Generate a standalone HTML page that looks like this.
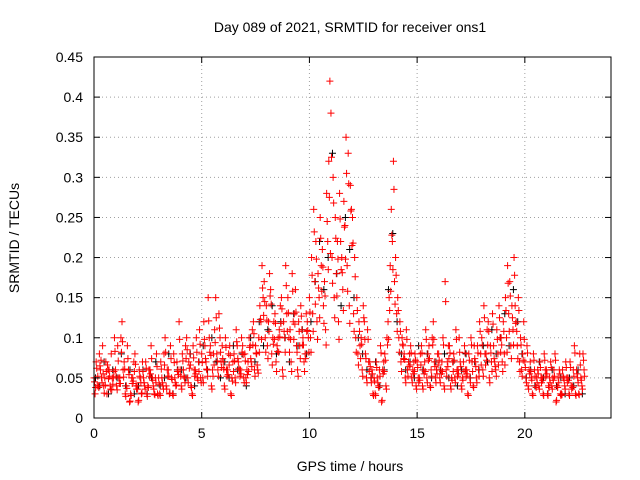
<!DOCTYPE html>
<html><head><meta charset="utf-8">
<style>
body{margin:0;background:#fff;}
svg{display:block;font-family:"Liberation Sans",Arial,sans-serif;}
</style></head>
<body>
<svg id="chart" width="640" height="480" viewBox="0 0 640 480" xmlns="http://www.w3.org/2000/svg">
<rect width="640" height="480" fill="#fff"/>
<text x="350" y="32" font-size="14" text-anchor="middle">Day 089 of 2021, SRMTID for receiver ons1</text>
<text x="350" y="471" font-size="14" text-anchor="middle">GPS time / hours</text>
<text x="19" y="238" font-size="14" text-anchor="middle" transform="rotate(-90 19 238)">SRMTID / TECUs</text>
<g id="grid"></g>
<g id="points"></g>
<g id="axes"></g>
</svg>
<script>
const xTicks=[0,5,10,15,20];
const yTicks=[0,0.05,0.1,0.15,0.2,0.25,0.3,0.35,0.4,0.45];
const yTickLabels=["0","0.05","0.1","0.15","0.2","0.25","0.3","0.35","0.4","0.45"];
const redStepHour=0.1;
const blackStepHour=0.2;
const redA=[.05,.07,.04,.06,.09,.05,.03,.06,.08,.05,
.06,.09,.05,.12,.07,.04,.06,.03,.05,.08,
.04,.06,.03,.05,.07,.04,.06,.05,.03,.08,
.05,.07,.04,.1,.06,.03,.05,.08,.04,.06,
.06,.08,.05,.1,.07,.04,.09,.06,.05,.11,
.08,.12,.07,.15,.09,.06,.11,.08,.13,.07,
.07,.1,.06,.09,.05,.08,.11,.07,.06,.09,
.08,.06,.1,.07,.12,.09,.06,.14,.19,.17,
.14,.12,.16,.1,.13,.09,.11,.15,.12,.19,
.15,.11,.18,.13,.09,.12,.14,.1,.08,.12,
.15,.2,.26,.22,.18,.25,.21,.17,.28,.32,
.38,.3,.25,.22,.28,.2,.27,.35,.33,.29,
.25,.2,.15,.12,.1,.14,.08,.11,.07,.06,
.05,.07,.04,.09,.06,.08,.1,.15,.26,.32,
.2,.15,.12,.1,.08,.11,.07,.09,.06,.08,
.07,.05,.09,.06,.11,.08,.04,.1,.07,.06,
.08,.06,.1,.17,.07,.09,.05,.08,.11,.06,
.07,.05,.09,.06,.08,.1,.04,.07,.09,.12,
.1,.14,.08,.12,.09,.13,.07,.11,.14,.1,
.12,.15,.19,.17,.14,.2,.12,.15,.1,.08,
.07,.09,.06,.05,.08,.04,.06,.07,.05,.08,
.06,.04,.07,.05,.08,.04,.06,.03,.05,.07,
.05,.07,.04,.09,.06,.03,.05,.08];
const redB=[.03,.04,.08,.05,.04,.07,.06,.04,.05,.1,
.04,.05,.1,.06,.03,.09,.02,.05,.07,.04,
.02,.05,.07,.04,.03,.06,.09,.04,.05,.03,
.03,.05,.08,.04,.06,.09,.03,.05,.07,.12,
.04,.06,.09,.05,.08,.03,.06,.1,.07,.05,
.05,.09,.06,.1,.04,.08,.15,.06,.1,.09,
.04,.06,.08,.03,.07,.05,.09,.06,.1,.05,
.05,.07,.09,.11,.06,.08,.1,.12,.15,.1,
.09,.18,.08,.12,.07,.1,.14,.06,.1,.13,
.1,.07,.12,.16,.06,.09,.11,.07,.13,.1,
.1,.13,.17,.12,.15,.19,.14,.11,.22,.42,
.2,.15,.18,.12,.22,.16,.24,.19,.14,.26,
.13,.1,.08,.09,.06,.12,.05,.07,.05,.03,
.03,.05,.06,.02,.07,.04,.12,.19,.22,.17,
.13,.1,.07,.09,.05,.06,.08,.05,.07,.04,
.05,.08,.04,.07,.05,.09,.06,.12,.05,.08,
.05,.07,.04,.06,.09,.04,.07,.05,.06,.1,
.04,.07,.06,.03,.05,.07,.09,.05,.06,.08,
.06,.08,.11,.05,.07,.09,.06,.08,.1,.07,
.08,.1,.13,.09,.11,.14,.09,.07,.06,.12,
.05,.04,.07,.03,.06,.05,.04,.05,.03,.06,
.03,.05,.04,.06,.02,.05,.03,.06,.04,.05,
.03,.04,.06,.03,.05,.08,.04,.06];
const redC=[.045,.062,.038,.072,.055,.041,.066,.052,.035,.058,
.052,.071,.043,.095,.061,.037,.054,.028,.046,.067,
.036,.052,.031,.044,.062,.038,.055,.047,.029,.064,
.042,.061,.036,.082,.052,.031,.048,.069,.041,.054,
.052,.071,.044,.085,.062,.038,.075,.055,.047,.092,
.069,.098,.061,.121,.078,.052,.094,.071,.112,.063,
.061,.088,.054,.078,.046,.071,.095,.062,.055,.079,
.071,.054,.088,.064,.105,.081,.056,.123,.162,.145,
.122,.108,.142,.092,.118,.083,.101,.136,.108,.165,
.131,.098,.158,.117,.082,.108,.127,.091,.074,.109,
.132,.178,.232,.198,.162,.224,.188,.152,.245,.275,
.325,.268,.224,.198,.248,.181,.238,.305,.292,.258,
.218,.176,.134,.108,.092,.125,.074,.098,.064,.055,
.046,.063,.038,.081,.055,.072,.091,.134,.228,.285,
.178,.134,.108,.092,.073,.098,.064,.081,.055,.072,
.063,.047,.081,.055,.098,.072,.038,.091,.064,.055,
.072,.055,.091,.145,.064,.081,.047,.072,.098,.055,
.064,.047,.081,.055,.072,.091,.038,.064,.081,.108,
.091,.125,.072,.108,.081,.117,.064,.098,.125,.091,
.108,.134,.168,.152,.125,.178,.108,.134,.091,.072,
.063,.081,.055,.047,.072,.038,.055,.063,.047,.072,
.055,.038,.063,.047,.072,.038,.055,.029,.047,.063,
.047,.063,.038,.081,.055,.029,.047,.072];
const redD=[.038,.052,.065,.044,.031,.058,.049,.036,.042,.083,
.035,.043,.082,.051,.027,.074,.021,.043,.058,.036,
.022,.044,.058,.036,.027,.052,.074,.036,.044,.028,
.028,.044,.066,.036,.052,.074,.028,.044,.058,.098,
.036,.052,.074,.044,.066,.028,.052,.082,.058,.044,
.044,.074,.052,.082,.036,.066,.125,.052,.082,.074,
.036,.052,.066,.028,.058,.044,.074,.052,.082,.044,
.044,.058,.074,.091,.052,.066,.082,.098,.128,.082,
.074,.152,.066,.098,.058,.082,.118,.052,.082,.108,
.082,.058,.098,.132,.052,.074,.091,.058,.108,.082,
.082,.108,.142,.098,.125,.158,.118,.091,.185,.205,
.168,.125,.152,.098,.185,.134,.198,.158,.118,.215,
.108,.082,.066,.074,.052,.098,.044,.058,.044,.028,
.028,.044,.052,.022,.058,.036,.098,.158,.185,.142,
.108,.082,.058,.074,.044,.052,.066,.044,.058,.036,
.044,.066,.036,.058,.044,.074,.052,.098,.044,.066,
.044,.058,.036,.052,.074,.036,.058,.044,.052,.082,
.036,.058,.052,.028,.044,.058,.074,.044,.052,.066,
.052,.066,.091,.044,.058,.074,.052,.066,.082,.058,
.066,.082,.108,.074,.091,.118,.074,.058,.052,.098,
.044,.036,.058,.028,.052,.044,.036,.044,.028,.052,
.028,.044,.036,.052,.022,.044,.028,.052,.036,.044,
.028,.036,.052,.028,.044,.066,.036,.052];
const black=[.05,.04,.07,.03,.06,.05,.08,.04,.06,.03,
.04,.06,.03,.05,.07,.04,.05,.08,.03,.06,
.06,.05,.08,.04,.07,.09,.06,.1,.07,.05,
.07,.05,.09,.06,.08,.04,.1,.07,.12,.09,
.11,.14,.08,.12,.1,.07,.13,.09,.11,.08,
.12,.17,.22,.16,.2,.33,.18,.14,.25,.21,
.15,.1,.08,.06,.05,.07,.04,.06,.16,.23,
.12,.08,.06,.07,.05,.09,.06,.08,.05,.07,
.06,.08,.05,.07,.04,.06,.08,.05,.07,.06,
.09,.07,.11,.08,.1,.13,.09,.16,.12,.08,
.05,.06,.04,.07,.05,.03,.06,.04,.05,.03,
.05,.04,.06,.03];

const L=94,R=611,T=57,B=418,XMAX=24,YMAX=0.45;
const xs=h=>L+(R-L)*h/XMAX;
const ys=v=>B-(B-T)*v/YMAX;
const NS="http://www.w3.org/2000/svg";
const grid=document.getElementById('grid'),pts=document.getElementById('points'),axes=document.getElementById('axes');
function mk(tag,attrs,parent){const e=document.createElementNS(NS,tag);for(const k in attrs)e.setAttribute(k,attrs[k]);parent.appendChild(e);return e;}

yTicks.forEach((v,i)=>{
  const y=ys(v);
  if(i>0&&i<yTicks.length-1){const g=mk('line',{x1:L,x2:R,y1:y,y2:y,stroke:'#a0a0a0','stroke-dasharray':'1,3'},grid);
  
  }
  const t=mk('line',{x1:L,x2:L+6,y1:y,y2:y,stroke:'#000'},axes);
  
  
  const t2=mk('line',{x1:R,x2:R-6,y1:y,y2:y,stroke:'#000'},axes);
  
  
  const lb=mk('text',{x:L-11,y:y+5,'font-size':14,'text-anchor':'end'},axes);
  lb.textContent=yTickLabels[i];
  
  
});
xTicks.forEach(h=>{
  const x=xs(h);
  if(h>0){const g=mk('line',{x1:x,x2:x,y1:T,y2:B,stroke:'#a0a0a0','stroke-dasharray':'1,3'},grid);
  
  }
  const t=mk('line',{x1:x,x2:x,y1:B,y2:B-6,stroke:'#000'},axes);
  
  
  const t2=mk('line',{x1:x,x2:x,y1:T,y2:T+6,stroke:'#000'},axes);
  
  
  const lb=mk('text',{x:x,y:B+20,'font-size':14,'text-anchor':'middle'},axes);
  lb.textContent=String(h);
  
  
});
const frame=mk('rect',{x:L,y:T,width:R-L,height:B-T,fill:'none',stroke:'#000'},axes);



function plus(h,v,color,name){
  const x=xs(h),y=ys(v);
  const p=mk('path',{d:`M${x-3.5} ${y}H${x+3.5}M${x} ${y-3.5}V${y+3.5}`,stroke:color,'stroke-width':1,fill:'none'},pts);
  
  
}
black.forEach((v,i)=>plus(i*blackStepHour+0.07,v,'#000','black-point'));
redA.forEach((v,i)=>plus(i*redStepHour,v,'#f00','red-point'));
redC.forEach((v,i)=>plus(i*redStepHour+0.025,v,'#f00','red-point'));
redB.forEach((v,i)=>plus(i*redStepHour+0.05,v,'#f00','red-point'));
redD.forEach((v,i)=>plus(i*redStepHour+0.075,v,'#f00','red-point'));
</script>
</body></html>
